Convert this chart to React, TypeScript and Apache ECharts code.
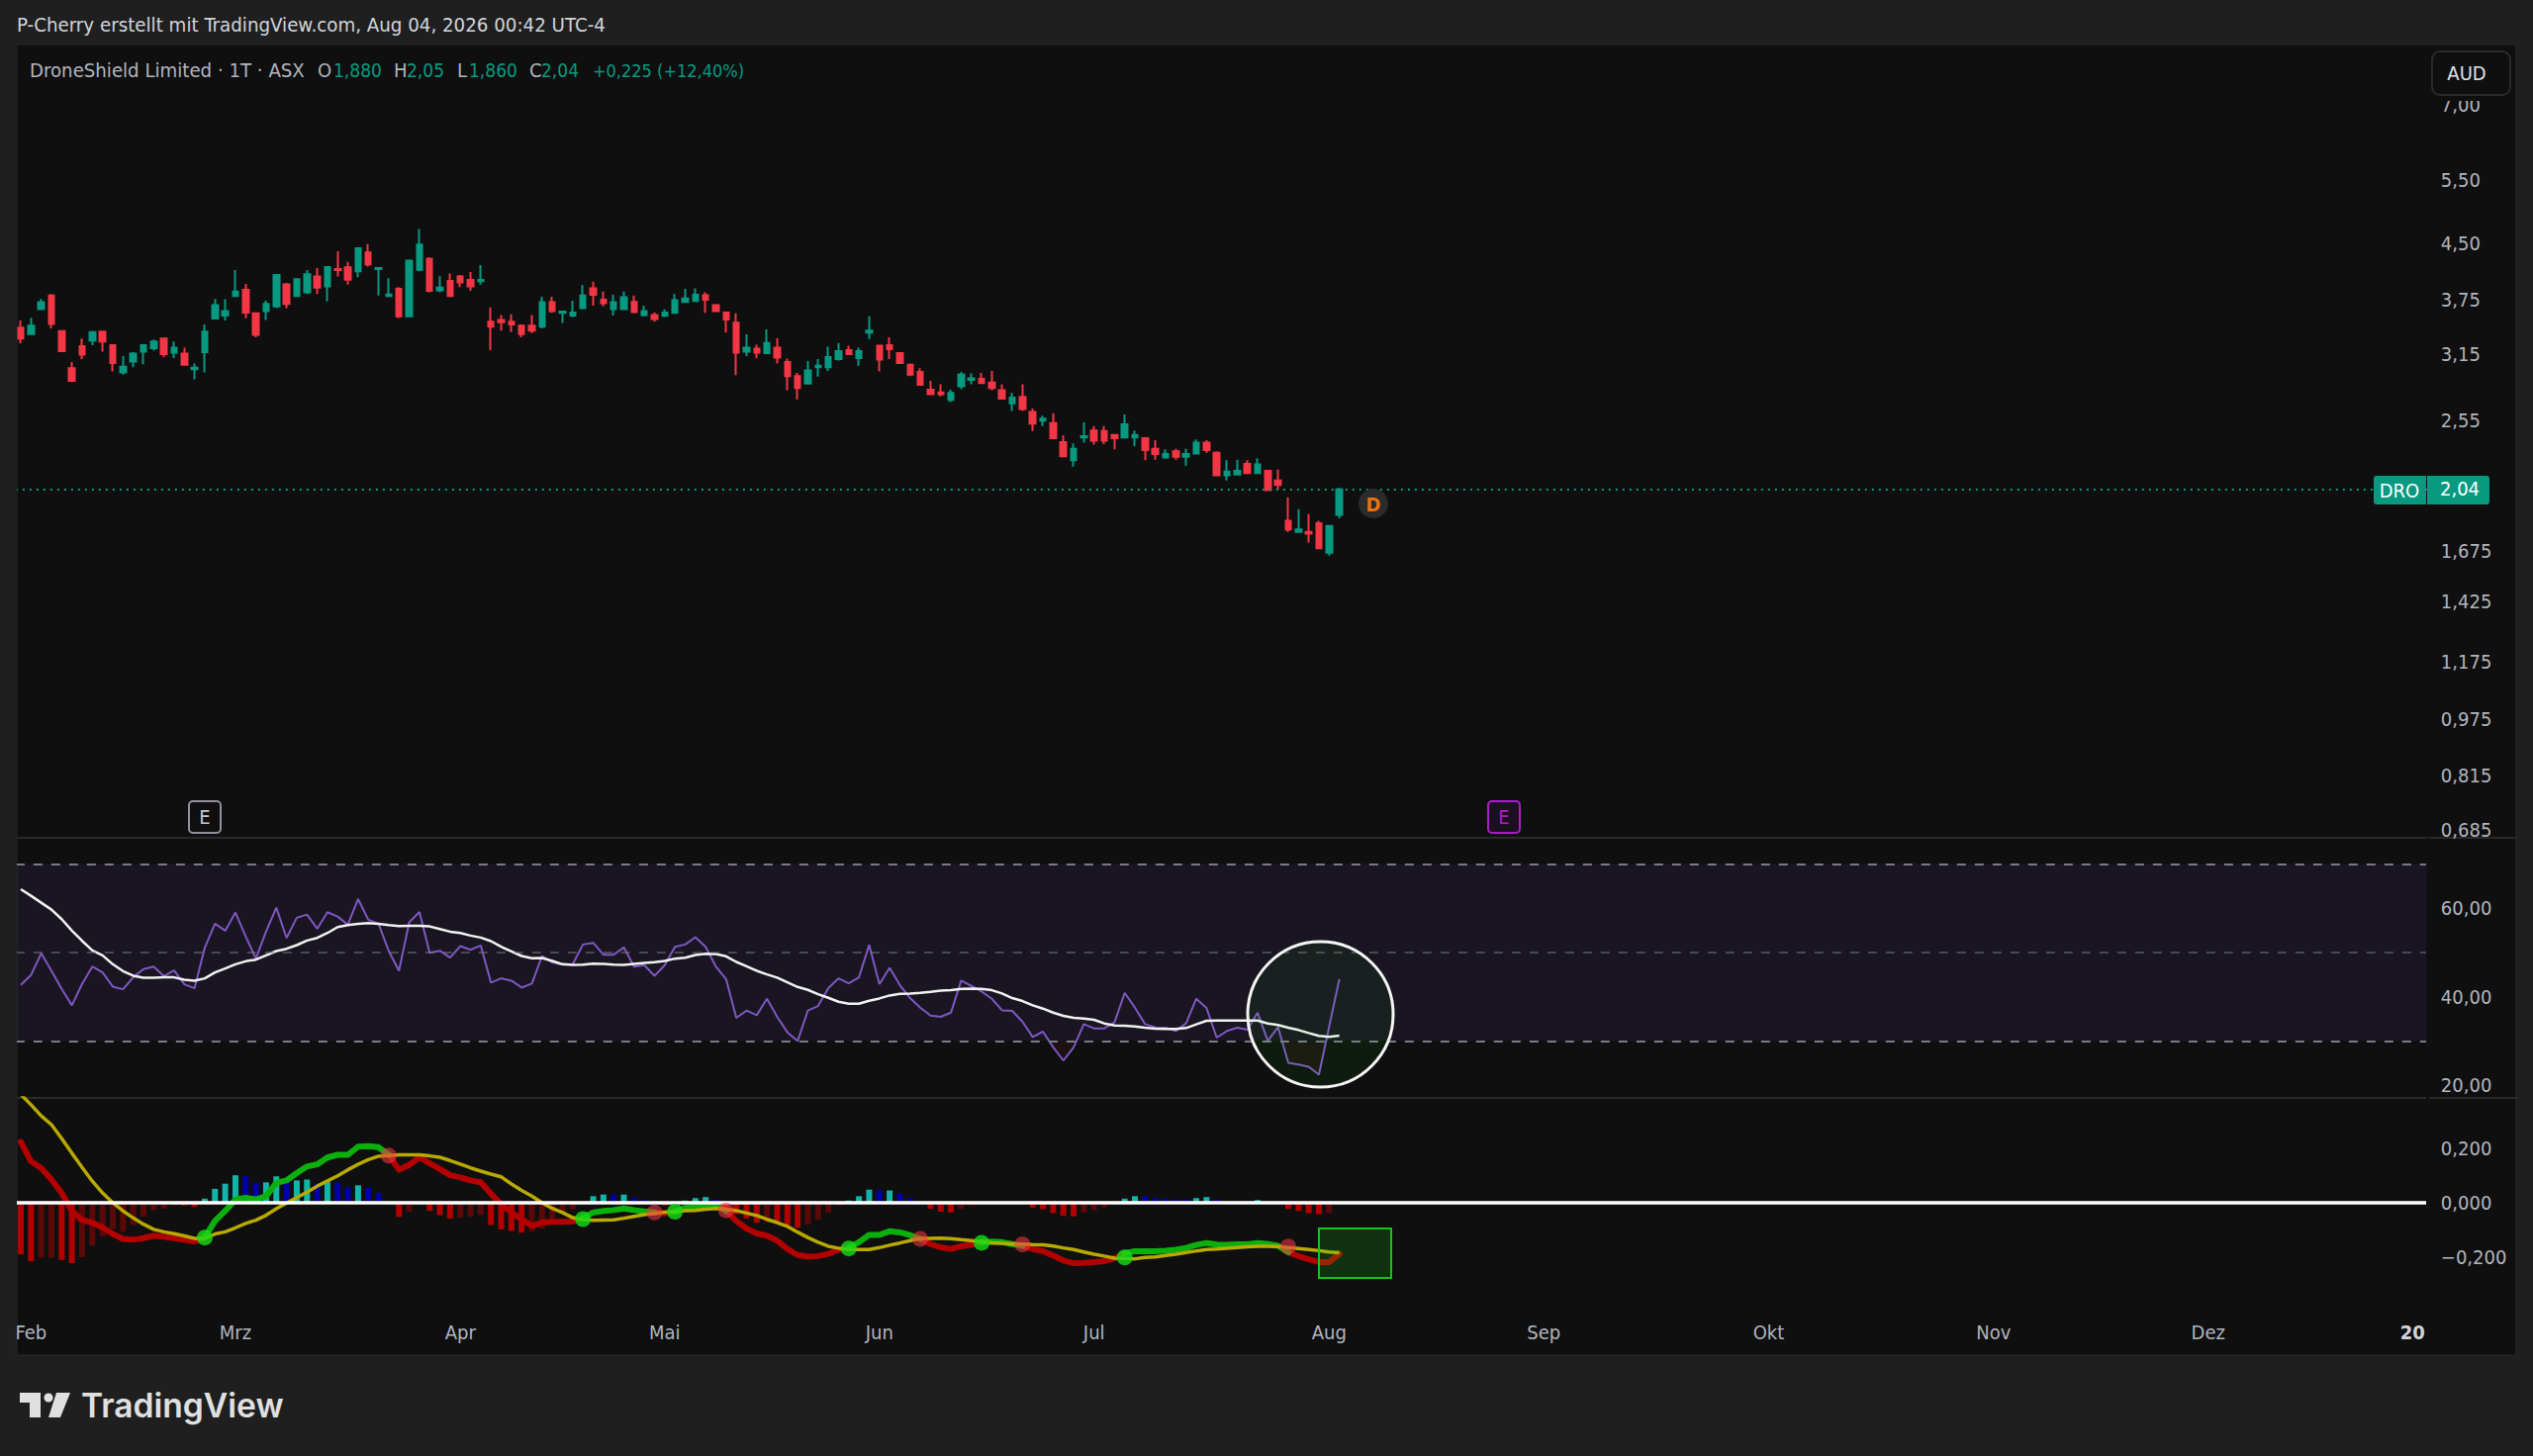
import React, { useEffect, useRef } from "react";
import * as echarts from "echarts";

const barCount = 236;
const monthBars = [1, 21, 43, 63, 84, 105, 128, 149, 171, 193, 214, 234];
const monthLabels = ["Feb", "Mrz", "Apr", "Mai", "Jun", "Jul", "Aug", "Sep", "Okt", "Nov", "Dez", "20"];

const priceTicks = [7, 5.5, 4.5, 3.75, 3.15, 2.55, 1.675, 1.425, 1.175, 0.975, 0.815, 0.685];
const priceTickLabels = ["7,00", "5,50", "4,50", "3,75", "3,15", "2,55", "1,675", "1,425", "1,175", "0,975", "0,815", "0,685"];
const rsiTicks = [20, 40, 60];
const macdTicks = [-0.2, 0, 0.2];

// open, close, low, high
const candles = [
  [3.43,3.31,3.26,3.51],[3.36,3.45,3.35,3.54],[3.64,3.72,3.63,3.76],[3.80,3.47,3.42,3.82],[3.39,3.18,3.17,3.40],
  [3.01,2.89,2.88,3.07],[3.23,3.145,3.10,3.31],[3.29,3.38,3.24,3.385],[3.385,3.28,3.175,3.395],[3.24,3.06,2.98,3.25],
  [2.97,3.025,2.95,3.13],[3.075,3.155,3.02,3.17],[3.175,3.24,3.05,3.245],[3.21,3.28,3.185,3.30],[3.31,3.15,3.12,3.315],
  [3.165,3.215,3.11,3.28],[3.155,3.045,3.035,3.215],[3.0,3.015,2.905,3.055],[3.17,3.385,2.97,3.465],[3.53,3.685,3.525,3.76],
  [3.565,3.615,3.51,3.755],[3.795,3.85,3.79,4.125],[3.87,3.60,3.535,3.945],[3.59,3.35,3.325,3.595],[3.615,3.70,3.515,3.74],
  [3.67,4.06,3.65,4.065],[3.94,3.70,3.65,3.96],[3.795,4.005,3.785,4.02],[3.84,4.07,3.82,4.125],[4.04,3.90,3.82,4.15],
  [3.915,4.165,3.73,4.175],[4.14,4.125,4.04,4.38],[4.16,4.0,3.935,4.235],[4.11,4.425,4.03,4.43],[4.365,4.20,4.17,4.485],
  [4.14,4.15,3.80,4.15],[3.795,3.815,3.79,4.02],[3.885,3.555,3.535,3.905],[3.555,4.25,3.55,4.26],[4.13,4.475,4.11,4.705],
  [4.275,3.86,3.84,4.30],[3.865,3.90,3.84,4.045],[3.985,3.795,3.79,4.08],[4.04,3.965,3.905,4.06],[3.995,3.915,3.86,4.10],
  [3.98,3.995,3.935,4.19],[3.495,3.44,3.19,3.66],[3.515,3.49,3.395,3.57],[3.495,3.465,3.38,3.58],[3.45,3.36,3.325,3.465],
  [3.45,3.395,3.37,3.57],[3.44,3.72,3.42,3.785],[3.72,3.615,3.595,3.785],[3.595,3.61,3.48,3.61],[3.565,3.60,3.545,3.74],
  [3.65,3.80,3.65,3.93],[3.89,3.81,3.68,3.975],[3.75,3.71,3.67,3.85],[3.64,3.72,3.565,3.81],[3.64,3.78,3.63,3.85],
  [3.725,3.605,3.595,3.80],[3.57,3.615,3.555,3.68],[3.57,3.525,3.495,3.60],[3.565,3.60,3.545,3.635],[3.595,3.745,3.585,3.82],
  [3.725,3.765,3.72,3.885],[3.735,3.81,3.73,3.89],[3.805,3.75,3.595,3.84],[3.685,3.615,3.61,3.69],[3.60,3.52,3.375,3.61],
  [3.485,3.165,2.945,3.59],[3.175,3.215,3.13,3.355],[3.205,3.165,3.11,3.245],[3.16,3.265,3.155,3.41],[3.215,3.115,3.055,3.315],
  [3.07,2.935,2.805,3.105],[2.935,2.825,2.725,2.965],[2.865,2.99,2.86,3.08],[3.02,3.035,2.93,3.10],[3.02,3.12,2.985,3.225],
  [3.10,3.18,3.085,3.265],[3.19,3.15,3.145,3.235],[3.11,3.18,3.035,3.215],[3.375,3.395,3.305,3.555],[3.235,3.095,2.98,3.24],
  [3.24,3.20,3.10,3.325],[3.16,3.06,3.055,3.17],[3.045,2.95,2.935,3.055],[2.975,2.855,2.85,3.01],[2.81,2.77,2.765,2.89],
  [2.785,2.77,2.75,2.86],[2.72,2.78,2.70,2.81],[2.84,2.95,2.815,2.975],[2.90,2.915,2.86,2.96],[2.91,2.87,2.865,2.965],
  [2.875,2.825,2.805,2.985],[2.805,2.73,2.73,2.86],[2.69,2.74,2.625,2.78],[2.745,2.64,2.625,2.86],[2.615,2.52,2.46,2.645],
  [2.545,2.56,2.50,2.585],[2.525,2.405,2.40,2.605],[2.375,2.27,2.26,2.425],[2.24,2.325,2.195,2.365],[2.41,2.42,2.37,2.53],
  [2.465,2.385,2.355,2.50],[2.46,2.385,2.36,2.50],[2.43,2.405,2.32,2.435],[2.41,2.515,2.41,2.595],[2.41,2.43,2.345,2.465],
  [2.405,2.315,2.24,2.405],[2.325,2.285,2.245,2.39],[2.26,2.285,2.26,2.32],[2.305,2.265,2.245,2.325],[2.265,2.285,2.20,2.325],
  [2.29,2.37,2.285,2.395],[2.37,2.315,2.295,2.39],[2.295,2.135,2.13,2.305],[2.135,2.16,2.10,2.24],[2.14,2.165,2.14,2.245],
  [2.215,2.15,2.15,2.24],[2.15,2.21,2.15,2.255],[2.165,2.035,2.03,2.17],[2.10,2.07,2.04,2.175],[1.845,1.795,1.78,1.99],
  [1.78,1.795,1.78,1.915],[1.78,1.77,1.72,1.885],[1.83,1.69,1.69,1.845],[1.665,1.815,1.65,1.815],[1.88,2.04,1.86,2.05],
];

const rsiValues = [
  42.64,44.87,49.78,45.84,41.75,38.03,42.86,46.80,45.46,42.27,41.67,44.35,46.21,46.80,44.65,45.91,42.79,41.90,51.04,56.47,
  54.91,59.0,53.64,48.59,54.76,60.11,53.27,57.81,58.55,55.35,59.07,58.10,56.25,62.04,57.36,56.47,50.30,45.84,56.77,59.14,
  49.93,50.37,48.81,51.41,50.59,51.56,43.16,44.13,43.61,42.04,42.94,49.18,47.70,47.25,47.32,51.78,52.16,49.48,49.48,51.12,
  46.80,47.10,44.72,47.10,51.26,51.78,53.42,51.26,46.80,43.98,35.20,36.84,35.80,39.52,35.43,31.93,29.93,36.84,37.88,41.90,
  44.13,43.01,44.35,51.71,42.79,46.51,42.64,39.67,37.51,35.72,35.43,36.39,43.61,42.42,41.15,39.52,36.91,36.77,34.31,30.89,
  32.08,28.59,25.54,28.51,33.79,32.83,32.83,34.16,40.86,37.51,33.79,33.05,32.97,32.23,33.94,39.52,37.43,30.74,32.23,32.97,
  32.53,36.39,30.0,33.12,25.02,24.65,24.13,22.34,33.2,43.98,
];

const rsiAverage = [
  64.28,62.79,61.23,59.67,57.51,54.91,52.60,50.45,49.33,47.32,45.76,44.72,44.28,44.28,44.35,44.35,43.83,43.61,44.13,45.46,
  46.36,47.32,47.99,48.36,49.33,50.30,50.82,51.64,52.68,53.27,54.39,55.72,56.17,56.47,56.62,56.47,56.17,55.95,56.02,56.02,
  55.87,55.28,54.68,54.39,53.79,53.35,52.53,51.26,50.22,49.18,48.66,48.74,48.07,47.32,47.17,47.25,47.47,47.40,47.25,47.17,
  47.40,47.62,47.77,48.07,48.59,48.81,49.41,49.70,49.63,49.11,47.84,46.88,45.84,45.02,44.28,43.23,42.19,41.52,40.56,39.74,
  38.85,38.40,38.40,39.07,39.59,40.26,40.63,40.71,40.86,41.08,41.38,41.45,41.75,41.82,41.75,41.45,40.71,39.67,39.0,38.03,
  37.29,36.39,35.65,35.20,35.06,34.76,33.94,33.49,33.42,33.27,32.97,32.75,32.68,32.68,32.90,33.72,34.54,34.61,34.61,34.61,
  34.61,34.61,33.94,33.57,32.97,32.45,31.78,31.12,30.89,31.19,
];

const histValues = [
  -0.190,-0.215,-0.202,-0.202,-0.210,-0.222,-0.200,-0.158,-0.124,-0.097,-0.107,-0.082,-0.051,-0.027,-0.022,-0.010,-0.010,-0.015,
  0.015,0.051,0.070,0.101,0.098,0.073,0.075,0.097,0.076,0.082,0.085,0.070,0.076,0.074,0.056,0.064,0.056,0.036,
  0.001,-0.052,-0.033,-0.007,-0.030,-0.046,-0.058,-0.055,-0.051,-0.045,-0.082,-0.098,-0.104,-0.110,-0.107,-0.095,-0.061,-0.039,-0.024,-0.002,
  0.024,0.030,0.030,0.030,0.018,0.010,0.005,-0.010,-0.002,0.008,0.017,0.021,0.011,
  -0.036,-0.042,-0.058,-0.073,-0.073,-0.076,-0.082,-0.092,-0.080,-0.062,-0.036,-0.010,
  0.008,0.024,0.048,0.046,0.045,0.034,0.018,0.002,
  -0.022,-0.033,-0.036,-0.022,-0.010,-0.002,-0.001,-0.001,-0.001,-0.001,
  -0.018,-0.024,-0.038,-0.048,-0.050,-0.036,-0.027,-0.018,-0.002,
  0.015,0.024,0.024,0.018,0.015,0.012,0.012,0.017,0.021,0.012,0.001,0.001,0.001,0.010,0.001,
  -0.002,-0.023,-0.030,-0.038,-0.042,-0.038,-0.007,
];

const histKinds = [
  "rrddrrddddddddddrr", "ttttbbttbttbtbbtbb", "brddrrrdddrrrrdddddd", "ttbtbbbrdtttb", "rrrrdrrrdddd",
  "tttbtbbb", "rrrddddddd", "rrrrrdddd", "ttbbbbbttbbbbtt", "rrrrrdd",
].join("");

const macdValues = [
  0.224,0.152,0.127,0.085,0.036,-0.030,-0.064,-0.073,-0.091,-0.115,-0.133,-0.136,-0.130,-0.121,-0.125,-0.130,-0.136,-0.142,-0.128,-0.067,
  -0.030,0.012,0.018,0.012,0.024,0.073,0.082,0.109,0.133,0.141,0.166,0.176,0.176,0.206,0.208,0.204,0.176,0.121,0.139,0.167,
  0.145,0.124,0.101,0.093,0.082,0.075,0.033,-0.006,-0.036,-0.061,-0.085,-0.073,-0.070,-0.070,-0.069,-0.055,-0.036,-0.030,-0.027,-0.021,
  -0.027,-0.032,-0.036,-0.039,-0.033,-0.019,-0.015,-0.010,-0.010,-0.030,-0.067,-0.095,-0.113,-0.121,-0.139,-0.170,-0.192,-0.198,-0.196,-0.188,
  -0.172,-0.166,-0.145,-0.118,-0.118,-0.105,-0.109,-0.119,-0.133,-0.152,-0.164,-0.170,-0.160,-0.154,-0.145,-0.143,-0.145,-0.152,-0.158,-0.170,
  -0.178,-0.194,-0.212,-0.222,-0.221,-0.218,-0.215,-0.204,-0.185,-0.178,-0.178,-0.178,-0.176,-0.173,-0.166,-0.155,-0.148,-0.154,-0.155,-0.153,
  -0.153,-0.148,-0.152,-0.158,-0.182,-0.196,-0.208,-0.218,-0.218,-0.188,
];

const signalValues = [
  0.398,0.360,0.319,0.287,0.236,0.182,0.130,0.079,0.036,0,-0.030,-0.056,-0.079,-0.098,-0.107,-0.114,-0.122,-0.131,-0.131,-0.115,
  -0.107,-0.092,-0.076,-0.064,-0.046,-0.022,-0.001,0.019,0.039,0.061,0.080,0.099,0.121,0.141,0.158,0.171,0.173,0.176,0.176,0.176,
  0.172,0.167,0.155,0.142,0.128,0.116,0.105,0.095,0.069,0.045,0.024,0,-0.021,-0.036,-0.055,-0.062,-0.065,-0.064,-0.063,-0.057,
  -0.050,-0.044,-0.039,-0.035,-0.033,-0.029,-0.028,-0.024,-0.021,-0.024,-0.029,-0.038,-0.047,-0.061,-0.073,-0.087,-0.108,-0.128,-0.145,-0.160,
  -0.167,-0.172,-0.172,-0.172,-0.165,-0.156,-0.148,-0.139,-0.131,-0.131,-0.130,-0.132,-0.136,-0.139,-0.143,-0.147,-0.149,-0.152,-0.152,-0.154,
  -0.155,-0.159,-0.166,-0.172,-0.181,-0.189,-0.196,-0.204,-0.205,-0.206,-0.201,-0.199,-0.194,-0.189,-0.183,-0.177,-0.172,-0.170,-0.167,-0.165,
  -0.162,-0.160,-0.160,-0.161,-0.165,-0.168,-0.172,-0.176,-0.181,-0.184,
];

const macdGreenRanges = [[18, 36], [55, 62], [64, 69], [81, 88], [94, 98], [108, 124]];
const crossUp = [[18, -0.128], [55, -0.06], [64, -0.033], [81, -0.168], [94, -0.147], [108, -0.201]];
const crossDown = [[36, 0.173], [62, -0.036], [69, -0.028], [88, -0.133], [98, -0.153], [124, -0.161]];

const lastPrice = 2.04;
const UP = "#089981";
const DOWN = "#f23645";
const PANEL = "#0f0f0f";
const PAGE = "#1f1f1f";
const LABEL = "#b2b5be";
const FONT = '"DejaVu Sans Condensed", "DejaVu Sans"';
const histColors: Record<string, string> = { r: "#b30000", d: "#5a0808", t: "#13b5a8", b: "#0000a8" };

const categories = Array.from({ length: barCount }, (_, i) => `bar${i}`);
const inGreen = (i: number) => macdGreenRanges.some(([a, b]) => i >= a && i <= b);
const insideGreen = (i: number) => macdGreenRanges.some(([a, b]) => i > a && i < b);

const txt = (text: string, x: number, y: number, fill: string, size = 20, extra: any = {}) => ({
  type: "text",
  z: 100,
  style: { text, x, y, fill, fontSize: size, fontFamily: FONT, verticalAlign: "middle", ...extra },
});

function buildOption(): any {
  const gridLeft = 15.84;
  const gridWidth = 2438;
  const grids = [
    { left: gridLeft, width: gridWidth, top: 46, height: 801 },
    { left: gridLeft, width: gridWidth, top: 847, height: 263 },
    { left: gridLeft, width: gridWidth, top: 1110, height: 220 },
  ];
  const xAxisBase = {
    type: "category",
    data: categories,
    boundaryGap: true,
    axisLine: { show: false },
    axisTick: { show: false },
    splitLine: { show: false },
  };
  const yLabelBase = { color: LABEL, fontSize: 20, fontFamily: FONT, margin: 13, align: "left" };
  const yBase = {
    position: "right",
    axisLine: { show: false },
    axisTick: { show: false },
    splitLine: { show: false },
    minorTick: { show: false },
    minorSplitLine: { show: false },
  };
  const nearestPriceLabel = (v: number) => {
    let best = 0;
    let bestD = Infinity;
    priceTicks.forEach((t, i) => {
      const d = Math.abs(Math.log(t) - Math.log(v));
      if (d < bestD) { bestD = d; best = i; }
    });
    return priceTickLabels[best];
  };
  return {
    animation: false,
    backgroundColor: PAGE,
    tooltip: { show: false },
    grid: grids,
    xAxis: [
      { ...xAxisBase, gridIndex: 0, axisLabel: { show: false } },
      { ...xAxisBase, gridIndex: 1, axisLabel: { show: false } },
      {
        ...xAxisBase,
        gridIndex: 2,
        axisLabel: {
          show: true,
          color: LABEL,
          fontSize: 20,
          fontFamily: FONT,
          margin: 7,
          hideOverlap: false,
          interval: (i: number) => monthBars.includes(i),
          formatter: (_: string, i: number) => {
            const k = monthBars.indexOf(i);
            if (k < 0) return "";
            return k === monthBars.length - 1 ? `{b|${monthLabels[k]}}` : monthLabels[k];
          },
          rich: { b: { fontWeight: "bold", fontSize: 20, color: "#d1d4dc", fontFamily: FONT } },
        },
      },
    ],
    yAxis: [
      {
        ...yBase,
        type: "log",
        logBase: 10,
        gridIndex: 0,
        min: 0.667,
        max: 8.48,
        axisLabel: {
          ...yLabelBase,
          customValues: priceTicks,
          formatter: (v: number) => nearestPriceLabel(v),
        },
      },
      {
        ...yBase,
        type: "value",
        gridIndex: 1,
        min: 17.1,
        max: 75.9,
        axisLabel: {
          ...yLabelBase,
          customValues: rsiTicks,
          formatter: (v: number) => v.toFixed(2).replace(".", ","),
        },
      },
      {
        ...yBase,
        type: "value",
        gridIndex: 2,
        min: -0.4145,
        max: 0.385,
        axisLabel: {
          ...yLabelBase,
          customValues: macdTicks,
          formatter: (v: number) => v.toFixed(3).replace(".", ",").replace("-", "\u2212"),
        },
      },
    ],
    series: [
      {
        type: "candlestick",
        name: "DRO",
        xAxisIndex: 0,
        yAxisIndex: 0,
        barWidth: 6,
        data: candles,
        itemStyle: { color: UP, color0: DOWN, borderColor: UP, borderColor0: DOWN, borderWidth: 2 },
        markLine: {
          silent: true,
          symbol: "none",
          label: { show: false },
          lineStyle: { color: UP, type: [2, 5], width: 2 },
          data: [{ yAxis: lastPrice }],
        },
      },
      {
        type: "custom",
        name: "RSI oversold",
        xAxisIndex: 1,
        yAxisIndex: 1,
        z: 2,
        data: rsiValues.slice(0, -1).map((v, i) => [i, v]),
        renderItem: (params: any, api: any) => {
          const i = params.dataIndex;
          const a = rsiValues[i];
          const b = rsiValues[i + 1];
          if (a >= 30 && b >= 30) return null;
          const p0 = api.coord([i, a]);
          const p1 = api.coord([i + 1, b]);
          const base = api.coord([i, 30])[1];
          const pts: number[][] = [];
          const cross = () => p0[0] + ((base - p0[1]) / (p1[1] - p0[1])) * (p1[0] - p0[0]);
          if (a < 30) { pts.push([p0[0], base], p0); } else { pts.push([cross(), base]); }
          if (b < 30) { pts.push(p1, [p1[0], base]); } else { pts.push([cross(), base]); }
          return { type: "polygon", shape: { points: pts }, style: { fill: "rgba(190,40,50,0.09)" } };
        },
      },
      {
        type: "line",
        name: "RSI",
        xAxisIndex: 1,
        yAxisIndex: 1,
        data: rsiValues,
        showSymbol: false,
        z: 3,
        lineStyle: { color: "#7e57c2", width: 2 },
        markArea: {
          silent: true,
          itemStyle: { color: "rgba(126,87,194,0.1)" },
          data: [[{ yAxis: 70 }, { yAxis: 30 }]],
        },
        markLine: {
          silent: true,
          symbol: "none",
          label: { show: false },
          data: [
            { yAxis: 70, lineStyle: { color: "#787b86", type: [9, 9], width: 2 } },
            { yAxis: 50, lineStyle: { color: "rgba(120,123,134,0.5)", type: [9, 9], width: 2 } },
            { yAxis: 30, lineStyle: { color: "#787b86", type: [9, 9], width: 2 } },
          ],
        },
      },
      {
        type: "line",
        name: "RSI MA",
        xAxisIndex: 1,
        yAxisIndex: 1,
        data: rsiAverage,
        showSymbol: false,
        z: 4,
        lineStyle: { color: "#f2f2f2", width: 2.5 },
      },
      {
        type: "bar",
        name: "Histogram",
        xAxisIndex: 2,
        yAxisIndex: 2,
        barWidth: 6,
        z: 2,
        data: histValues.map((v, i) => ({ value: v, itemStyle: { color: histColors[histKinds[i]] } })),
      },
      {
        type: "line",
        name: "MACD falling",
        xAxisIndex: 2,
        yAxisIndex: 2,
        z: 3,
        showSymbol: false,
        connectNulls: false,
        data: macdValues.map((v, i) => (insideGreen(i) ? null : v)),
        lineStyle: { color: "#b30000", width: 6, cap: "round", join: "round" },
      },
      {
        type: "line",
        name: "MACD rising",
        xAxisIndex: 2,
        yAxisIndex: 2,
        z: 3,
        showSymbol: false,
        connectNulls: false,
        data: macdValues.map((v, i) => (inGreen(i) ? v : null)),
        lineStyle: { color: "#0cb00c", width: 6, cap: "round", join: "round" },
      },
      {
        type: "line",
        name: "Signal",
        xAxisIndex: 2,
        yAxisIndex: 2,
        z: 4,
        showSymbol: false,
        data: signalValues,
        lineStyle: { color: "#b8aa00", width: 3.5 },
      },
      {
        type: "scatter",
        name: "Cross up",
        xAxisIndex: 2,
        yAxisIndex: 2,
        z: 5,
        symbolSize: 16,
        data: crossUp,
        itemStyle: { color: "#17dc17" },
      },
      {
        type: "scatter",
        name: "Cross down",
        xAxisIndex: 2,
        yAxisIndex: 2,
        z: 5,
        symbolSize: 16,
        data: crossDown,
        itemStyle: { color: "rgba(245,55,70,0.7)" },
      },
      {
        type: "line",
        name: "Zero",
        xAxisIndex: 2,
        yAxisIndex: 2,
        z: 6,
        data: [],
        markLine: {
          silent: true,
          symbol: "none",
          label: { show: false },
          lineStyle: { color: "#ffffff", type: "solid", width: 3.5 },
          data: [{ yAxis: 0 }],
        },
      },
    ],
    graphic: [
      { type: "rect", z: -1, shape: { x: 17, y: 45, width: 2526, height: 1325 }, style: { fill: PANEL, stroke: "#2a2a2a", lineWidth: 1 } },
      { type: "line", z: -1, shape: { x1: 17, y1: 847, x2: 2543, y2: 847 }, style: { stroke: "#2a2a2a", lineWidth: 2 } },
      { type: "line", z: -1, shape: { x1: 17, y1: 1110, x2: 2543, y2: 1110 }, style: { stroke: "#2a2a2a", lineWidth: 2 } },
      // clean edges of the plot
      { type: "rect", z: 90, shape: { x: 0, y: 46, width: 17, height: 1300 }, style: { fill: PAGE } },
      { type: "rect", z: 90, shape: { x: 2452, y: 847, width: 3, height: 480 }, style: { fill: PANEL } },
      // drawings
      { type: "ellipse", z: 7, shape: { cx: 1334.5, cy: 1025.5, rx: 73.5, ry: 73.5 }, style: { fill: "rgba(0,255,0,0.05)", stroke: "#f5f5f5", lineWidth: 3 } },
      { type: "rect", z: 7, shape: { x: 1333, y: 1242, width: 73, height: 50 }, style: { fill: "rgba(30,220,30,0.17)", stroke: "#18c418", lineWidth: 2 } },
      // header
      txt("P-Cherry erstellt mit TradingView.com, Aug 04, 2026 00:42 UTC-4", 17, 25, "#d1d4dc", 20.3),
      txt("DroneShield Limited \u00b7 1T \u00b7 ASX", 30, 71, LABEL, 20.2),
      txt("O", 321, 71, LABEL, 20),
      txt("1,880", 337, 71, UP, 19),
      txt("H", 398, 71, LABEL, 20),
      txt("2,05", 411, 71, UP, 19),
      txt("L", 462, 71, LABEL, 20),
      txt("1,860", 474, 71, UP, 19),
      txt("C", 535, 71, LABEL, 20),
      txt("2,04", 547, 71, UP, 19),
      txt("+0,225 (+12,40%)", 599, 71, UP, 18),
      // currency button (with the margin that cuts the top scale label)
      { type: "rect", z: 95, shape: { x: 2458, y: 96, width: 79, height: 6 }, style: { fill: PANEL } },
      { type: "rect", z: 100, shape: { x: 2458, y: 52, width: 79, height: 44, r: 8 }, style: { fill: PANEL, stroke: "#2a2a2a", lineWidth: 2 } },
      txt("AUD", 2493, 74, "#e0e3eb", 20, { align: "center" }),
      // last price tag
      { type: "rect", z: 100, shape: { x: 2399, y: 481, width: 53, height: 29, r: [3, 0, 0, 3] }, style: { fill: UP } },
      { type: "rect", z: 100, shape: { x: 2453, y: 481, width: 63, height: 29, r: [0, 3, 3, 0] }, style: { fill: UP } },
      txt("DRO", 2425, 496, "#ffffff", 20, { align: "center" }),
      txt("2,04", 2486, 494, "#ffffff", 20, { align: "center" }),
      // dividend and earnings badges
      { type: "circle", z: 100, shape: { cx: 1388, cy: 509, r: 15 }, style: { fill: "#2b2b2b" } },
      txt("D", 1388, 510, "#e8750f", 20, { align: "center", fontWeight: "bold" }),
      { type: "rect", z: 100, shape: { x: 191, y: 810, width: 32, height: 32, r: 4 }, style: { fill: PANEL, stroke: "#8f929b", lineWidth: 2 } },
      txt("E", 207, 826, "#c5c8d0", 20, { align: "center" }),
      { type: "rect", z: 100, shape: { x: 1504, y: 810, width: 32, height: 32, r: 4 }, style: { fill: "#1d0f22", stroke: "#a81fc8", lineWidth: 2 } },
      txt("E", 1520, 826, "#a81fc8", 20, { align: "center" }),
      // logo
      { type: "polygon", z: 100, shape: { points: [[20, 1408], [41, 1408], [41, 1433], [30, 1433], [30, 1418], [20, 1418]] }, style: { fill: "#e0e0e0" } },
      { type: "circle", z: 100, shape: { cx: 49, cy: 1413, r: 4.5 }, style: { fill: "#e0e0e0" } },
      { type: "polygon", z: 100, shape: { points: [[57, 1408], [71, 1408], [61, 1433], [49, 1433]] }, style: { fill: "#e0e0e0" } },
      txt("TradingView", 82, 1420, "#e0e0e0", 33.6, { fontFamily: "Inter", fontWeight: 600 }),
    ],
  };
}

export default function App() {
  const ref = useRef<HTMLDivElement>(null);
  useEffect(() => {
    document.body.style.margin = "0";
    document.body.style.background = PAGE;
    const chart = echarts.init(ref.current!, undefined, { renderer: "svg" });
    chart.setOption(buildOption());
    return () => chart.dispose();
  }, []);
  return <div ref={ref} style={{ position: "absolute", left: 0, top: 0, width: 2560, height: 1472 }} />;
}
